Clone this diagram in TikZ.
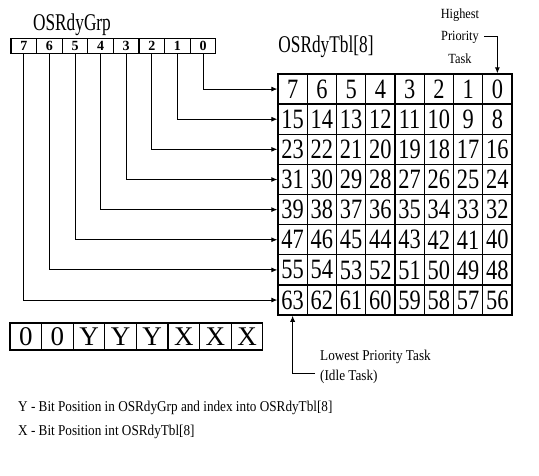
\documentclass[tikz,border=0pt]{standalone}
\usepackage{fontspec}
\setmainfont{Liberation Serif}
\newfontfamily\cnd[FakeStretch=0.88]{Liberation Serif}
\newfontfamily\dig[FakeStretch=0.8]{Liberation Serif}
\newfontfamily\ttlf[FakeStretch=0.72]{Liberation Serif}
\usetikzlibrary{arrows.meta}
\tikzset{
 regcell/.style={draw, line width=1.1pt, minimum width=25.6pt, minimum height=15pt, inner sep=0pt, font=\fontsize{14}{14}\selectfont\bfseries},
 tcell/.style={draw, line width=1.3pt, minimum width=29.25pt, minimum height=30.14pt, inner sep=0pt, font=\dig\fontsize{28}{28}\selectfont},
 bcell/.style={draw, line width=1.3pt, minimum width=31.6pt, minimum height=27pt, inner sep=0pt, font=\fontsize{27}{27}\selectfont},
 arr/.style={line width=0.9pt, -{Latex[length=6pt,width=5pt]}},
 lbl/.style={font=\cnd\fontsize{15}{20}\selectfont, inner sep=0pt},
 slbl/.style={font=\cnd\fontsize{14}{22.5}\selectfont, inner sep=0pt},
 ttl/.style={font=\ttlf\fontsize{24}{24}\selectfont, inner sep=0pt},
}
\begin{document}
\begin{tikzpicture}[x=1pt,y=-1pt]
\useasboundingbox (0,0) rectangle (539,476);
% OSRdyTbl grid
\foreach \r in {0,...,7}{
  \foreach \c in {0,...,7}{
    \pgfmathtruncatemacro\n{8*\r+7-\c}
    \node[tcell] (t\r\c) at ({278+29.25*(\c+0.5)},{74+30.14*(\r+0.5)}) {\n};
  }
}
% OSRdyGrp register
\foreach \i in {0,...,7}{
  \pgfmathtruncatemacro\k{7-\i}
  \node[regcell] (g\k) at ({11+25.6*(\i+0.5)},46) {\k};
}
\foreach \k in {0,...,7}{
  \draw[arr] (g\k.south) |- (t\k0.west);
}
% titles
\node[ttl, anchor=base] (grp) at (72,31) {OSRdyGrp};
\node[ttl, anchor=base] (tbl) at (326,53) {OSRdyTbl[8]};
% highest priority
\node[slbl, align=center] (hi) at (460,36) {Highest\\Priority\\Task};
\coordinate (hs) at ([xshift=5pt]hi.east);
\draw[arr] (hs) -| (t07.north);
% lowest priority
\node[lbl, anchor=base west] (lo1) at (320,360) {Lowest Priority Task};
\node[lbl, anchor=base west] (lo2) at (320,380) {(Idle Task)};
\coordinate (lc) at (315,373);
\draw[arr] (lc) -| (t70.south);
% bottom bit pattern
\foreach \s [count=\i from 0] in {0,0,Y,Y,Y,X,X,X}{
  \node[bcell] (b\i) at ({10+31.6*(\i+0.5)},336.5) {\s};
}
% notes
\node[lbl, anchor=base west] (ny) at (18,411) {Y - Bit Position in OSRdyGrp and index into OSRdyTbl[8]};
\node[lbl, anchor=base west] (nx) at (18,435) {X - Bit Position int OSRdyTbl[8]};
\end{tikzpicture}
\end{document}
